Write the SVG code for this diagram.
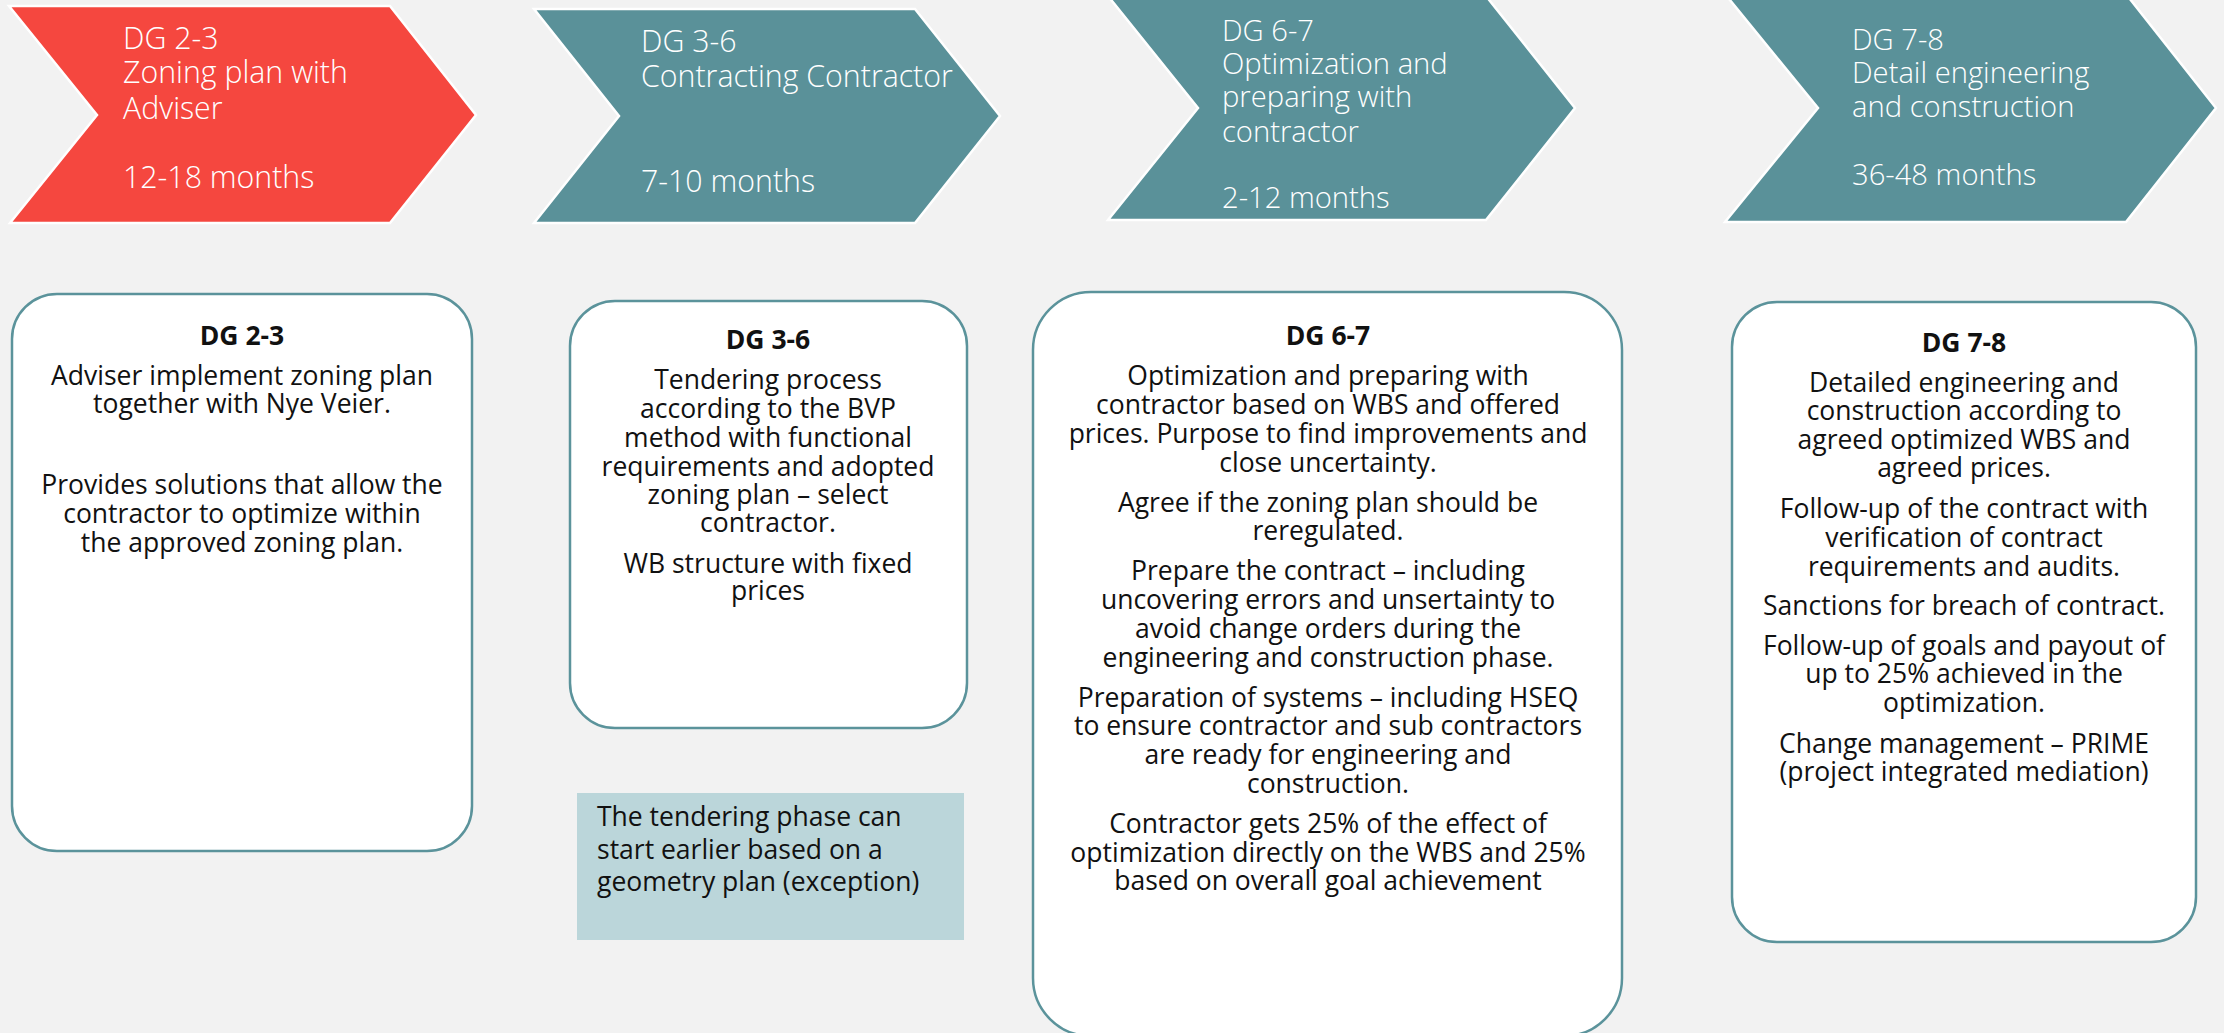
<svg xmlns="http://www.w3.org/2000/svg" width="2224" height="1033" viewBox="0 0 2224 1033">
<style>
.bg{fill:#F2F2F2}
.chev{stroke:#FFFFFF;stroke-width:2.5;stroke-linejoin:miter}
.red{fill:#F5473F}
.teal{fill:#5A9199}
.ct{font-family:"Open Sans","Liberation Sans",sans-serif;fill:#FFFFFF;font-size:30.3px;font-weight:300}
.ct2{font-family:"Open Sans","Liberation Sans",sans-serif;fill:#FFFFFF;font-size:29.2px;font-weight:300}
.box{fill:#FFFFFF;stroke:#5B939B;stroke-width:2.5}
.bt{font-family:"Open Sans","Liberation Sans",sans-serif;fill:#111111;font-size:26.5px;text-anchor:middle}
.bh{font-weight:bold}
.note{fill:#BBD6DA}
.nt{font-family:"Open Sans","Liberation Sans",sans-serif;fill:#111111;font-size:26.5px}
</style>
<rect class="bg" x="0" y="0" width="2224" height="1033"/>

<g id="phase-dg23">
<polygon class="chev red" points="9,6 390,6 476,115 390,223 10,223 97,115"/>
<text class="ct"><tspan x="123" y="49">DG 2-3</tspan><tspan x="123" y="83">Zoning plan with</tspan><tspan x="123" y="119">Adviser</tspan><tspan x="123" y="188">12-18 months</tspan></text>
</g>

<g id="phase-dg36">
<polygon class="chev teal" points="534,9 915,9 1000,116 915,223 534,223 619,116"/>
<text class="ct"><tspan x="641" y="52">DG 3-6</tspan><tspan x="641" y="87">Contracting Contractor</tspan><tspan x="641" y="192">7-10 months</tspan></text>
</g>

<g id="phase-dg67">
<polygon class="chev teal" points="1108,-4 1486,-4 1575,108 1486,220 1108,220 1198,108"/>
<text class="ct2"><tspan x="1222" y="41">DG 6-7</tspan><tspan x="1222" y="74">Optimization and</tspan><tspan x="1222" y="107">preparing with</tspan><tspan x="1222" y="142">contractor</tspan><tspan x="1222" y="208">2-12 months</tspan></text>
</g>

<g id="phase-dg78">
<polygon class="chev teal" points="1725,-6 2126,-6 2216,108 2126,222 1725,222 1818,108"/>
<text class="ct2"><tspan x="1852" y="50">DG 7-8</tspan><tspan x="1852" y="83">Detail engineering</tspan><tspan x="1852" y="117">and construction</tspan><tspan x="1852" y="185">36-48 months</tspan></text>
</g>

<g id="box-dg23">
<rect class="box" x="12" y="294" width="460" height="557" rx="45" ry="45"/>
<text class="bt bh" x="242" y="345">DG 2-3</text>
<text class="bt"><tspan x="242" y="385">Adviser implement zoning plan</tspan><tspan x="242" y="413">together with Nye Veier.</tspan></text>
<text class="bt"><tspan x="242" y="494">Provides solutions that allow the</tspan><tspan x="242" y="523">contractor to optimize within</tspan><tspan x="242" y="552">the approved zoning plan.</tspan></text>
</g>

<g id="box-dg36">
<rect class="box" x="570" y="301" width="397" height="427" rx="45" ry="45"/>
<text class="bt bh" x="768" y="349">DG 3-6</text>
<text class="bt"><tspan x="768" y="389">Tendering process</tspan><tspan x="768" y="418">according to the BVP</tspan><tspan x="768" y="447">method with functional</tspan><tspan x="768" y="476">requirements and adopted</tspan><tspan x="768" y="504">zoning plan – select</tspan><tspan x="768" y="532">contractor.</tspan></text>
<text class="bt"><tspan x="768" y="573">WB structure with fixed</tspan><tspan x="768" y="600">prices</tspan></text>
</g>

<g id="note-dg36">
<rect class="note" x="577" y="793" width="387" height="147"/>
<text class="nt"><tspan x="597" y="826">The tendering phase can</tspan><tspan x="597" y="859">start earlier based on a</tspan><tspan x="597" y="891">geometry plan (exception)</tspan></text>
</g>

<g id="box-dg67">
<rect class="box" x="1033" y="292" width="589" height="744" rx="58" ry="58"/>
<text class="bt bh" x="1328" y="345">DG 6-7</text>
<text class="bt"><tspan x="1328" y="385">Optimization and preparing with</tspan><tspan x="1328" y="414">contractor based on WBS and offered</tspan><tspan x="1328" y="443">prices. Purpose to find improvements and</tspan><tspan x="1328" y="472">close uncertainty.</tspan></text>
<text class="bt"><tspan x="1328" y="512">Agree if the zoning plan should be</tspan><tspan x="1328" y="540">reregulated.</tspan></text>
<text class="bt"><tspan x="1328" y="580">Prepare the contract – including</tspan><tspan x="1328" y="609">uncovering errors and unsertainty to</tspan><tspan x="1328" y="638">avoid change orders during the</tspan><tspan x="1328" y="667">engineering and construction phase.</tspan></text>
<text class="bt"><tspan x="1328" y="707">Preparation of systems – including HSEQ</tspan><tspan x="1328" y="735">to ensure contractor and sub contractors</tspan><tspan x="1328" y="764">are ready for engineering and</tspan><tspan x="1328" y="793">construction.</tspan></text>
<text class="bt"><tspan x="1328" y="833">Contractor gets 25% of the effect of</tspan><tspan x="1328" y="862">optimization directly on the WBS and 25%</tspan><tspan x="1328" y="890">based on overall goal achievement</tspan></text>
</g>

<g id="box-dg78">
<rect class="box" x="1732" y="302" width="464" height="640" rx="45" ry="45"/>
<text class="bt bh" x="1964" y="352">DG 7-8</text>
<text class="bt"><tspan x="1964" y="392">Detailed engineering and</tspan><tspan x="1964" y="420">construction according to</tspan><tspan x="1964" y="449">agreed optimized WBS and</tspan><tspan x="1964" y="477">agreed prices.</tspan></text>
<text class="bt"><tspan x="1964" y="518">Follow-up of the contract with</tspan><tspan x="1964" y="547">verification of contract</tspan><tspan x="1964" y="576">requirements and audits.</tspan></text>
<text class="bt" x="1964" y="615">Sanctions for breach of contract.</text>
<text class="bt"><tspan x="1964" y="655">Follow-up of goals and payout of</tspan><tspan x="1964" y="683">up to 25% achieved in the</tspan><tspan x="1964" y="712">optimization.</tspan></text>
<text class="bt"><tspan x="1964" y="753">Change management – PRIME</tspan><tspan x="1964" y="781">(project integrated mediation)</tspan></text>
</g>

<g id="connectors"/>
</svg>
